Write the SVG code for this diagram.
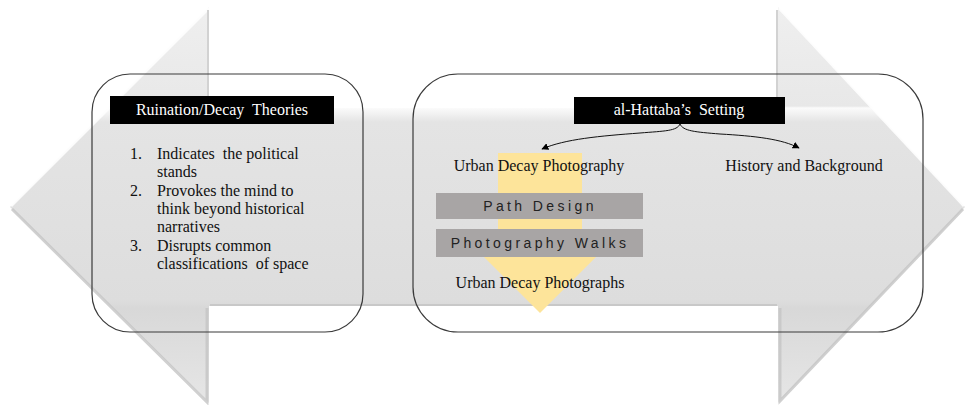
<svg xmlns="http://www.w3.org/2000/svg" width="967" height="405" viewBox="0 0 967 405">
<defs>
<linearGradient id="bg" gradientUnits="userSpaceOnUse" x1="0" y1="7" x2="0" y2="403">
<stop offset="0" stop-color="#efefef"/>
<stop offset="0.25" stop-color="#e8e8e8"/>
<stop offset="0.255" stop-color="#fbfbfb"/>
<stop offset="0.29" stop-color="#e4e4e4"/>
<stop offset="0.74" stop-color="#dddddd"/>
<stop offset="0.76" stop-color="#d8d8d8"/>
<stop offset="1" stop-color="#e6e6e6"/>
</linearGradient>
<marker id="ah" viewBox="0 0 10 10" refX="9" refY="5" markerWidth="7" markerHeight="7" orient="auto" markerUnits="userSpaceOnUse">
<path d="M0,0 L10,5 L0,10 Z" fill="#000"/>
</marker>
<style>
.serif{font-family:"Liberation Serif","Times New Roman",serif;font-size:16px;fill:#111111;white-space:pre}
.hdr{font-family:"Liberation Serif","Times New Roman",serif;font-size:16px;fill:#ffffff;white-space:pre}
.bar{font-family:"Liberation Sans",Arial,sans-serif;font-size:14px;fill:#222222;letter-spacing:3.4px}
.box{fill:none;stroke:#3a3a3a;stroke-width:1.2}
.conn{fill:none;stroke:#111;stroke-width:1}
</style>
</defs>
<g id="big-arrow">
<path d="M10,207 L209,7 L209,108 L778,108 L778,7 L965,207 L778,403 L778,306 L209,306 L209,403 Z" fill="url(#bg)"/>
<path d="M11,206 L209,8" stroke="#ffffff" stroke-width="3" opacity="0.9"/>
<path d="M779,8 L964,206" stroke="#ffffff" stroke-width="3" opacity="0.9"/>
<path d="M12,209 L207,402 L207,308" stroke="#c4c4c4" stroke-width="3" fill="none" opacity="0.8"/>
<path d="M780,308 L780,401 L963,209" stroke="#c4c4c4" stroke-width="3" fill="none" opacity="0.8"/>
<path d="M210,305 L777,305" stroke="#c8c8c8" stroke-width="2"/>
<path d="M208,10 L208,108" stroke="#d2d2d2" stroke-width="2"/>
<path d="M777,10 L777,108" stroke="#d2d2d2" stroke-width="2"/>
</g>
<g id="yellow-arrow">
<path d="M498,153 L582,153 L582,255 L598,255 L540,313 L482,255 L498,255 Z" fill="#fde49a"/>
</g>
<g id="theories">
<rect class="box" x="92" y="74" width="271" height="258" rx="38"/>
<rect x="110" y="96" width="224" height="28" fill="#000"/>
<text class="hdr" x="222" y="115" text-anchor="middle">Ruination/Decay  Theories</text>
<text class="serif" x="130" y="159">1.</text>
<text class="serif" x="157" y="159">Indicates  the political</text>
<text class="serif" x="157" y="177">stands</text>
<text class="serif" x="130" y="196">2.</text>
<text class="serif" x="157" y="196">Provokes the mind to</text>
<text class="serif" x="157" y="214">think beyond historical</text>
<text class="serif" x="157" y="232">narratives</text>
<text class="serif" x="130" y="251">3.</text>
<text class="serif" x="157" y="251">Disrupts common</text>
<text class="serif" x="157" y="269">classifications  of space</text>
</g>
<g id="setting">
<rect class="box" x="413" y="74" width="510" height="258" rx="45"/>
<rect x="574" y="97" width="211" height="27" fill="#000"/>
<text class="hdr" x="679" y="115" text-anchor="middle">al-Hattaba’s  Setting</text>
</g>
<g id="urban-decay-photography">
<text class="serif" x="539" y="171" text-anchor="middle">Urban Decay Photography</text>
</g>
<g id="history">
<text class="serif" x="804" y="171" text-anchor="middle">History and Background</text>
</g>
<g id="path-design">
<rect x="436" y="193" width="207" height="26" fill="#a8a5a5"/>
<text class="bar" x="540" y="211" text-anchor="middle">Path Design</text>
</g>
<g id="photography-walks">
<rect x="436" y="229" width="207" height="28" fill="#a8a5a5"/>
<text class="bar" x="540" y="248" text-anchor="middle">Photography Walks</text>
</g>
<g id="urban-decay-photographs">
<text class="serif" x="540" y="288" text-anchor="middle">Urban Decay Photographs</text>
</g>
<g id="connectors">
<path class="conn" d="M680,124 C677,131 665,131 640,133 C600,136 565,139 542,149" marker-end="url(#ah)"/>
<path class="conn" d="M680,124 C683,131 695,132 720,134 C755,136 782,139 799,148" marker-end="url(#ah)"/>
</g>
</svg>
